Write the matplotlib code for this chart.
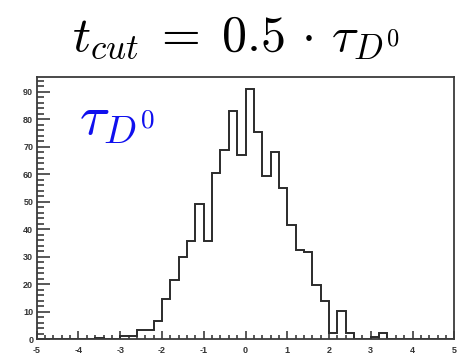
import numpy as np
import matplotlib
matplotlib.use("Agg")
import matplotlib.pyplot as plt
from matplotlib.ticker import MultipleLocator

plt.rcParams["mathtext.fontset"] = "cm"
plt.rcParams["axes.unicode_minus"] = False

# bin edges of the decay-time residual histogram (50 bins from -5 to 5)
bin_lo = -5.0
bin_hi = 5.0
n_bins = 50

# entries per bin, left to right
counts = [
    0, 0, 0, 0, 0, 0, 0, 0.4, 0, 0,
    1.3, 1.3, 3.4, 3.4, 6.6, 14.5, 21.4, 29.9, 35.8, 49.1,
    35.8, 60.6, 68.9, 83.0, 66.9, 91.0, 75.4, 59.6, 68.2, 55.1,
    41.7, 32.6, 31.6, 19.8, 14.0, 2.3, 10.2, 2.3, 0, 0,
    1.0, 2.3, 0, 0, 0, 0, 0, 0, 0, 0,
]

x_ticks = [-5, -4, -3, -2, -1, 0, 1, 2, 3, 4, 5]
y_ticks = [0, 10, 20, 30, 40, 50, 60, 70, 80, 90]

title = r"$t_{cut}\;=\;0.5\,\cdot\,\tau_{D^0}$"
label = r"$\tau_{D^0}$"

edges = np.linspace(bin_lo, bin_hi, n_bins + 1)

fig = plt.figure(figsize=(4.63, 3.54), dpi=100)
ax = fig.add_axes([0.0793, 0.0415, 0.9019, 0.7418])

ax.stairs(counts, edges, color="#2b2b2b", linewidth=1.4, baseline=0)

ax.set_xlim(bin_lo, bin_hi)
ax.set_ylim(0, max(counts) * 1.05)

# ROOT-like ticks: inward, major + 5 subdivisions
ax.set_xticks(x_ticks)
ax.set_yticks(y_ticks)
ax.xaxis.set_minor_locator(MultipleLocator(0.2))
ax.yaxis.set_minor_locator(MultipleLocator(2))
ax.tick_params(axis="both", which="both", direction="in", top=False, right=False,
               colors="#2b2b2b", width=1.1)
ax.tick_params(axis="x", which="major", length=5.5, pad=5)
ax.tick_params(axis="x", which="minor", length=2.8)
ax.tick_params(axis="y", which="major", length=9.5, pad=2.5)
ax.tick_params(axis="y", which="minor", length=5.3)
for lab in ax.get_xticklabels() + ax.get_yticklabels():
    lab.set_fontfamily("Liberation Sans")
    lab.set_fontweight("bold")
    lab.set_fontsize(6.5)
    lab.set_color("#333333")

for sp in ax.spines.values():
    sp.set_color("#3a3a3a")
    sp.set_linewidth(1.3)

fig.text(0.51, 1 - 37 / 354, title, fontsize=36, ha="center", va="center")
ax.text(-3.98, 74.5, label, fontsize=40, color="#1010ee", ha="left", va="baseline")

fig.savefig("out.png", dpi=100)
